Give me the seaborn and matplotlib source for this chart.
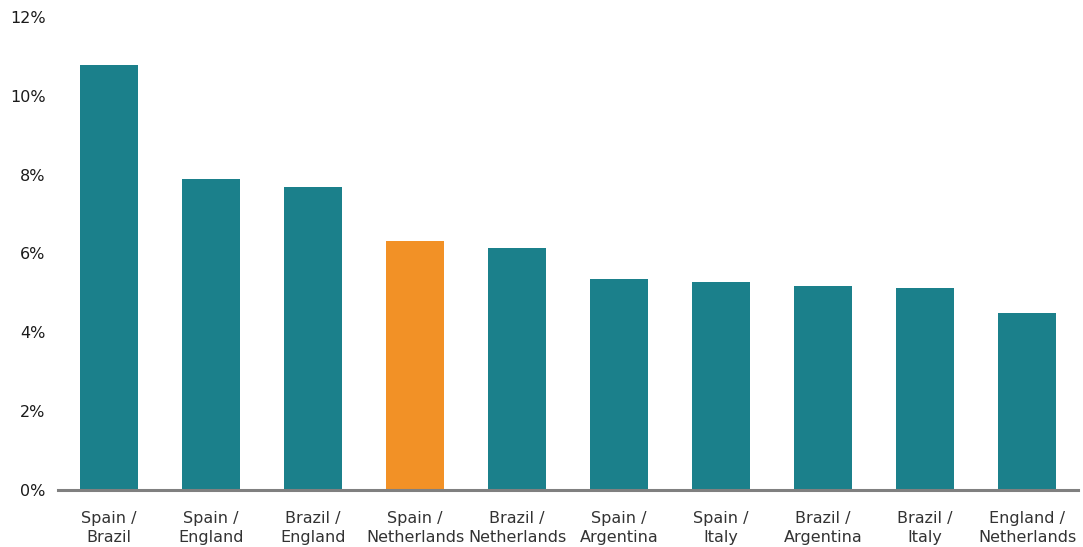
import matplotlib
matplotlib.use('Agg')
import matplotlib.pyplot as plt
import seaborn as sns
import pandas as pd
from matplotlib.ticker import FuncFormatter

# values (percent)
pairs = ['Spain /\nBrazil', 'Spain /\nEngland', 'Brazil /\nEngland', 'Spain /\nNetherlands',
         'Brazil /\nNetherlands', 'Spain /\nArgentina', 'Spain /\nItaly', 'Brazil /\nArgentina',
         'Brazil /\nItaly', 'England /\nNetherlands']
probs = [10.78, 7.89, 7.69, 6.32, 6.14, 5.36, 5.28, 5.18, 5.13, 4.49]
highlight = 'Spain /\nNetherlands'

teal = '#1B808B'
orange = '#F29126'

df = pd.DataFrame({'pair': pairs, 'prob': probs})
df['grp'] = ['hi' if p == highlight else 'base' for p in df['pair']]

sns.set_style('white')
plt.rcParams['font.family'] = ['DejaVu Sans']

fig = plt.figure(figsize=(10.83, 5.47), dpi=100)
ax = fig.add_axes([0.0536, 0.1042, 0.9418, 0.8648])

sns.barplot(data=df, x='pair', y='prob', hue='grp', palette={'base': teal, 'hi': orange},
            width=0.57, dodge=False, legend=False, saturation=1, linewidth=0, ax=ax)

ax.set_xlim(-0.5, 9.5)
ax.set_ylim(0, 12)
ax.set_yticks(range(0, 13, 2))
ax.yaxis.set_major_formatter(FuncFormatter(lambda v, p: f'{int(v)}%'))
ax.set_xlabel('')
ax.set_ylabel('')

for s in ['top', 'right', 'left']:
    ax.spines[s].set_visible(False)
ax.spines['bottom'].set_color('#808080')
ax.spines['bottom'].set_linewidth(2.2)
ax.tick_params(axis='both', length=0, labelsize=11.5)
ax.tick_params(axis='x', pad=15, labelcolor='#333333')
ax.tick_params(axis='y', pad=9, labelcolor='#1a1a1a')
for lbl in ax.get_xticklabels():
    lbl.set_linespacing(1.35)

plt.savefig('out.png', dpi=100)
